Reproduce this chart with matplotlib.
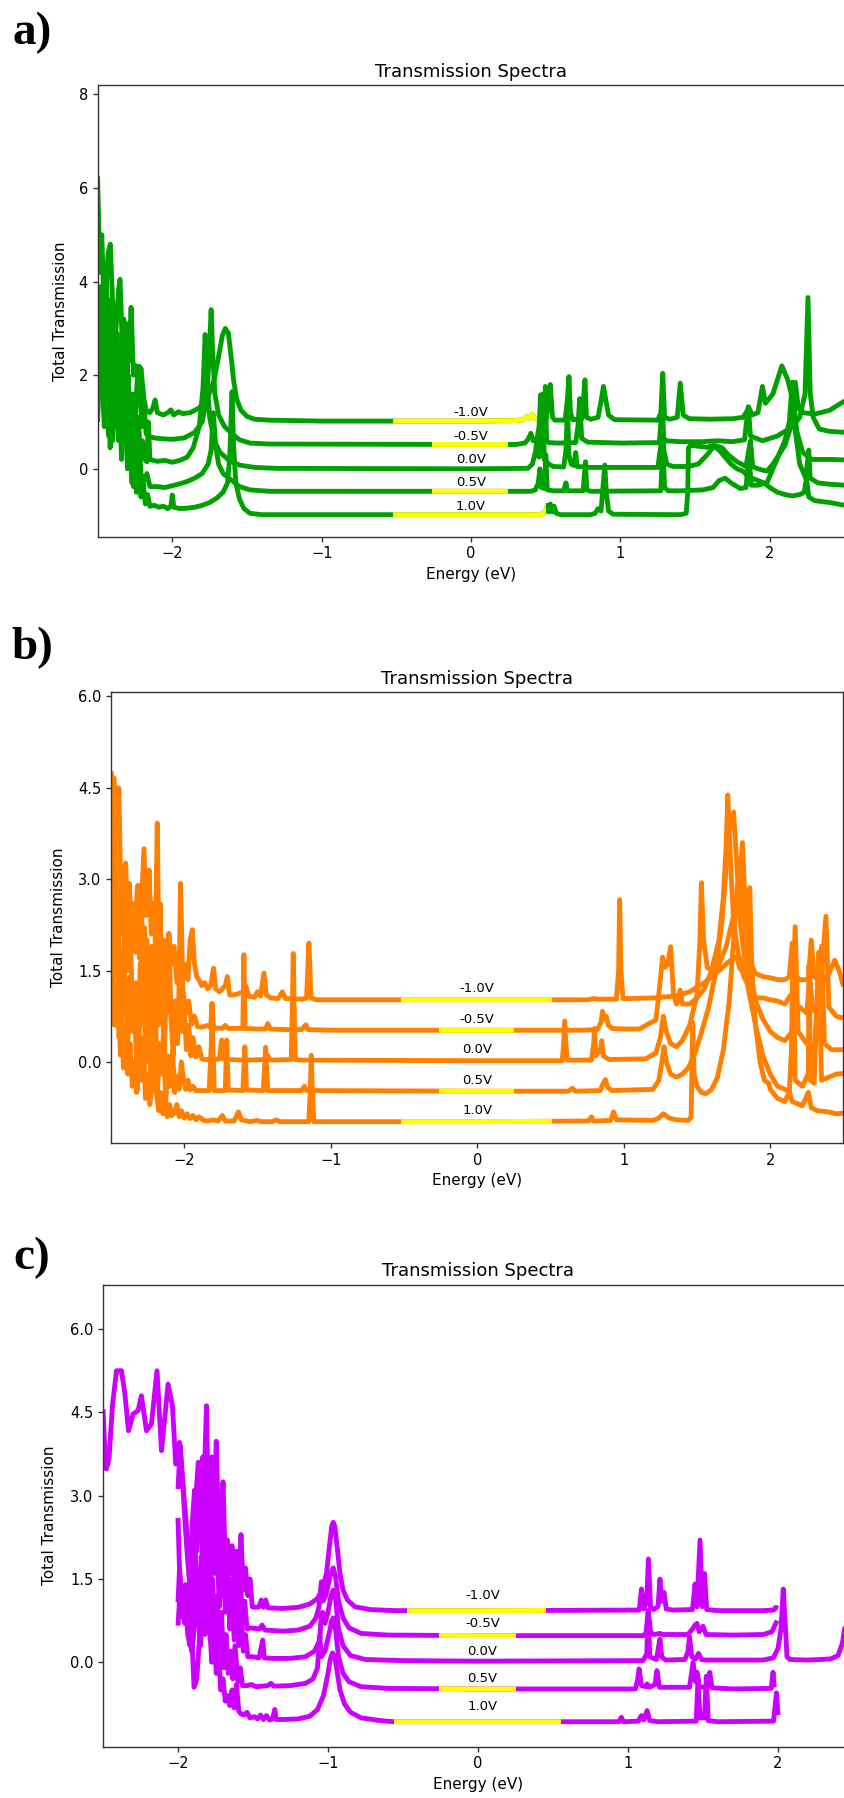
import numpy as np
import matplotlib
matplotlib.use("Agg")
import matplotlib.pyplot as plt
import matplotlib.transforms as mtransforms
from matplotlib.patches import Rectangle

# bias voltages, one spectrum per bias; each spectrum is drawn shifted by -V
biases = [-1.0, -0.5, 0.0, 0.5, 1.0]

# ---------------- panel a : (energy eV, shifted transmission) ----------------
a_m10 = [(-2.50, 6.25), (-2.485, 4.2), (-2.472, 5.0), (-2.455, 3.2), (-2.43, 4.6), (-2.415, 4.8),
         (-2.40, 3.6), (-2.385, 2.6), (-2.36, 3.8), (-2.35, 4.05), (-2.335, 2.7), (-2.31, 3.1),
         (-2.29, 2.3), (-2.276, 3.45), (-2.26, 2.0), (-2.24, 2.2), (-2.225, 1.6), (-2.21, 2.15),
         (-2.19, 1.5), (-2.175, 1.25), (-2.15, 1.2), (-2.13, 1.3), (-2.115, 1.47), (-2.10, 1.2),
         (-2.06, 1.15), (-2.03, 1.2), (-2.01, 1.26), (-1.99, 1.15), (-1.96, 1.22), (-1.93, 1.18),
         (-1.88, 1.2), (-1.82, 1.3), (-1.76, 1.55), (-1.72, 1.9), (-1.69, 2.4), (-1.665, 2.85),
         (-1.645, 3.0), (-1.625, 2.9), (-1.61, 2.5), (-1.59, 1.9), (-1.57, 1.5), (-1.54, 1.25),
         (-1.50, 1.12), (-1.45, 1.06), (-1.35, 1.04), (-1.0, 1.02), (0.0, 1.02), (0.30, 1.03),
         (0.35, 1.05), (0.37, 1.12), (0.39, 1.08), (0.41, 1.17), (0.42, 1.1), (0.44, 1.06),
         (0.48, 1.05), (0.50, 1.04), (0.515, 1.3), (0.53, 1.8), (0.545, 1.1), (0.56, 1.04),
         (0.63, 1.04), (0.645, 1.5), (0.655, 1.97), (0.665, 1.2), (0.68, 1.05), (0.74, 1.06),
         (0.752, 1.5), (0.762, 1.9), (0.772, 1.1), (0.80, 1.06), (0.85, 1.1), (0.87, 1.45),
         (0.886, 1.76), (0.90, 1.5), (0.92, 1.15), (0.96, 1.05), (1.25, 1.04), (1.27, 1.2),
         (1.283, 2.04), (1.295, 1.1), (1.33, 1.06), (1.38, 1.1), (1.40, 1.83), (1.42, 1.15),
         (1.46, 1.07), (1.60, 1.06), (1.75, 1.07), (1.82, 1.1), (1.86, 1.3), (1.88, 1.15),
         (1.92, 1.2), (1.95, 1.76), (1.97, 1.4), (2.02, 1.6), (2.08, 2.2), (2.12, 1.9),
         (2.15, 1.5), (2.17, 1.85), (2.19, 1.3), (2.22, 1.2), (2.30, 1.17), (2.40, 1.25),
         (2.50, 1.45)]
a_m05 = [(-2.50, 3.6), (-2.49, 2.6), (-2.475, 3.9), (-2.46, 2.4), (-2.445, 4.4), (-2.43, 3.0),
         (-2.416, 0.45), (-2.40, 1.8), (-2.385, 3.4), (-2.37, 2.0), (-2.355, 1.0), (-2.34, 2.6),
         (-2.325, 3.2), (-2.31, 1.2), (-2.295, 2.0), (-2.28, 0.8), (-2.265, 1.6), (-2.25, 0.9),
         (-2.235, 1.9), (-2.22, 2.19), (-2.205, 0.9), (-2.19, 1.4), (-2.175, 0.75), (-2.15, 0.68),
         (-2.10, 0.65), (-2.00, 0.63), (-1.92, 0.66), (-1.85, 0.78), (-1.80, 1.0), (-1.77, 1.5),
         (-1.755, 2.3), (-1.74, 3.4), (-1.73, 2.5), (-1.715, 1.6), (-1.69, 1.15), (-1.65, 0.9),
         (-1.60, 0.75), (-1.55, 0.62), (-1.48, 0.55), (-1.35, 0.53), (0.0, 0.52), (0.30, 0.52),
         (0.36, 0.55), (0.385, 0.65), (0.40, 0.76), (0.415, 0.6), (0.44, 0.62), (0.455, 0.9),
         (0.465, 1.58), (0.475, 0.8), (0.49, 0.7), (0.497, 1.76), (0.505, 0.6), (0.52, 0.56),
         (0.58, 0.55), (0.70, 0.56), (0.715, 0.9), (0.727, 1.5), (0.74, 0.65), (0.78, 0.57),
         (1.0, 0.55), (1.26, 0.56), (1.275, 1.2), (1.285, 0.7), (1.30, 0.6), (1.40, 0.58),
         (1.55, 0.58), (1.65, 0.6), (1.75, 0.58), (1.83, 0.62), (1.855, 1.33), (1.87, 0.7),
         (1.95, 0.6), (2.05, 0.7), (2.15, 0.9), (2.20, 1.1), (2.235, 1.6), (2.255, 3.66),
         (2.27, 1.6), (2.29, 1.1), (2.33, 0.85), (2.40, 0.8), (2.50, 0.78)]
a_000 = [(-2.50, 1.25), (-2.49, 2.0), (-2.475, 3.0), (-2.46, 4.1), (-2.45, 3.4), (-2.44, 1.8),
         (-2.425, 0.7), (-2.41, 2.2), (-2.39, 3.0), (-2.375, 1.5), (-2.36, 0.6), (-2.345, 2.3),
         (-2.33, 1.2), (-2.315, 2.7), (-2.30, 0.4), (-2.285, 1.4), (-2.26, -0.38), (-2.245, 0.5),
         (-2.23, 1.1), (-2.215, 0.3), (-2.20, 0.6), (-2.185, 0.2), (-2.17, 0.15), (-2.16, 1.0),
         (-2.15, 0.2), (-2.10, 0.16), (-2.05, 0.18), (-2.00, 0.14), (-1.95, 0.18), (-1.90, 0.25),
         (-1.86, 0.45), (-1.82, 0.9), (-1.795, 1.7), (-1.78, 2.87), (-1.765, 1.8), (-1.75, 1.1),
         (-1.72, 0.6), (-1.68, 0.35), (-1.62, 0.18), (-1.55, 0.08), (-1.45, 0.03), (-1.3, 0.01),
         (0.0, 0.0), (0.38, 0.01), (0.41, 0.1), (0.43, 0.35), (0.445, 0.7), (0.455, 0.25),
         (0.47, 0.3), (0.48, 1.6), (0.49, 0.2), (0.52, 0.1), (0.55, 0.05), (0.62, 0.04),
         (0.635, 0.4), (0.645, 1.3), (0.655, 0.3), (0.67, 0.1), (0.69, 0.07), (0.70, 0.35),
         (0.71, 0.05), (0.80, 0.03), (1.25, 0.03), (1.27, 0.5), (1.28, 1.6), (1.29, 0.4),
         (1.31, 0.1), (1.35, 0.05), (1.45, 0.05), (1.52, 0.1), (1.58, 0.3), (1.63, 0.5),
         (1.68, 0.45), (1.72, 0.3), (1.78, 0.15), (1.84, 0.05), (1.87, 0.6), (1.885, 0.05),
         (1.92, 0.0), (1.98, -0.05), (2.02, 0.1), (2.06, 0.3), (2.10, 0.5), (2.14, 0.9),
         (2.16, 1.4), (2.18, 0.8), (2.22, 0.35), (2.28, 0.2), (2.35, 0.2), (2.42, 0.2),
         (2.50, 0.19)]
a_p05 = [(-2.50, 2.2), (-2.485, 3.4), (-2.47, 2.0), (-2.455, 0.9), (-2.44, 2.6), (-2.42, 3.6),
         (-2.405, 2.2), (-2.39, 1.0), (-2.37, 2.9), (-2.355, 1.6), (-2.34, 0.2), (-2.325, 1.8),
         (-2.305, 3.1), (-2.29, 0.6), (-2.27, -0.2), (-2.255, 0.8), (-2.24, 0.2), (-2.225, 0.9),
         (-2.21, -0.1), (-2.19, -0.25), (-2.17, -0.1), (-2.15, -0.38), (-2.10, -0.38),
         (-2.05, -0.4), (-2.00, -0.36), (-1.95, -0.32), (-1.90, -0.27), (-1.85, -0.2),
         (-1.80, -0.1), (-1.76, 0.1), (-1.74, 0.4), (-1.725, 1.2), (-1.71, 0.5), (-1.69, 0.1),
         (-1.66, -0.1), (-1.60, -0.25), (-1.55, -0.38), (-1.48, -0.45), (-1.35, -0.48),
         (0.0, -0.48), (0.40, -0.48), (0.43, -0.45), (0.45, -0.3), (0.46, 0.0), (0.47, -0.4),
         (0.49, -0.42), (0.50, 0.3), (0.51, -0.45), (0.55, -0.47), (0.62, -0.47), (0.635, -0.3),
         (0.645, -0.47), (0.75, -0.47), (0.765, 0.15), (0.775, -0.45), (0.80, -0.48),
         (1.27, -0.47), (1.283, 0.6), (1.295, -0.4), (1.32, -0.47), (1.40, -0.47), (1.55, -0.45),
         (1.62, -0.4), (1.66, -0.25), (1.70, -0.2), (1.74, -0.3), (1.80, -0.42), (1.84, -0.4),
         (1.86, 0.3), (1.875, -0.35), (1.92, -0.35), (1.98, -0.3), (2.02, 0.0), (2.06, 0.3),
         (2.10, 0.6), (2.13, 1.0), (2.15, 1.85), (2.17, 0.8), (2.20, 0.1), (2.24, -0.2),
         (2.26, 0.4), (2.27, -0.2), (2.32, -0.3), (2.40, -0.33), (2.50, -0.35)]
a_p10 = [(-2.50, 1.0), (-2.49, 2.0), (-2.475, 3.1), (-2.46, 2.2), (-2.445, 1.0), (-2.43, 2.9),
         (-2.415, 1.5), (-2.40, 0.6), (-2.385, 1.8), (-2.37, 0.9), (-2.355, 2.2), (-2.34, 0.8),
         (-2.32, 1.6), (-2.30, 0.0), (-2.285, 0.9), (-2.27, -0.3), (-2.255, 0.4), (-2.24, -0.5),
         (-2.225, 0.2), (-2.21, -0.6), (-2.195, -0.3), (-2.18, -0.75), (-2.165, -0.55),
         (-2.15, -0.8), (-2.12, -0.78), (-2.09, -0.82), (-2.06, -0.8), (-2.03, -0.85),
         (-2.01, -0.8), (-2.0, -0.56), (-1.99, -0.82), (-1.95, -0.85), (-1.90, -0.84),
         (-1.85, -0.82), (-1.80, -0.78), (-1.75, -0.72), (-1.70, -0.62), (-1.66, -0.5),
         (-1.63, -0.3), (-1.615, 0.3), (-1.60, 1.65), (-1.59, 0.5), (-1.575, -0.3), (-1.55, -0.65),
         (-1.52, -0.85), (-1.48, -0.95), (-1.40, -0.98), (0.0, -0.98), (0.45, -0.98),
         (0.48, -0.96), (0.50, -0.9), (0.51, -0.78), (0.52, -0.92), (0.53, -0.75), (0.545, -0.92),
         (0.555, -0.8), (0.57, -0.95), (0.60, -0.98), (0.80, -0.98), (0.83, -0.95), (0.85, -0.85),
         (0.87, -0.9), (0.885, -0.3), (0.895, 0.08), (0.905, -0.5), (0.92, -0.9), (0.95, -0.97),
         (1.40, -0.98), (1.44, -0.95), (1.45, -0.5), (1.455, 0.45), (1.47, 0.5), (1.53, 0.48),
         (1.58, 0.46), (1.62, 0.5), (1.66, 0.4), (1.70, 0.25), (1.74, 0.1), (1.78, 0.0),
         (1.82, -0.05), (1.85, -0.15), (1.88, -0.2), (1.92, -0.25), (1.96, -0.3), (2.0, -0.4),
         (2.05, -0.5), (2.10, -0.55), (2.15, -0.58), (2.20, -0.55), (2.23, -0.5), (2.245, -0.2),
         (2.26, -0.6), (2.30, -0.68), (2.35, -0.7), (2.40, -0.72), (2.45, -0.75), (2.50, -0.78)]

# ---------------- panel b ----------------
b_m10 = [(-2.50, 4.77), (-2.49, 4.6), (-2.475, 4.2), (-2.46, 4.5), (-2.446, 4.49), (-2.435, 3.0),
         (-2.42, 2.1), (-2.405, 3.2), (-2.39, 2.5), (-2.375, 2.9), (-2.36, 2.0), (-2.345, 2.6),
         (-2.33, 1.8), (-2.315, 2.9), (-2.30, 2.2), (-2.275, 3.5), (-2.26, 2.4), (-2.24, 3.15),
         (-2.225, 2.1), (-2.21, 2.6), (-2.19, 1.6), (-2.175, 2.3), (-2.16, 1.5), (-2.14, 2.0),
         (-2.12, 1.3), (-2.105, 2.1), (-2.09, 1.6), (-2.07, 1.9), (-2.05, 1.3), (-2.03, 1.7),
         (-2.01, 1.45), (-1.99, 1.6), (-1.975, 1.35), (-1.96, 2.0), (-1.945, 2.17), (-1.93, 1.6),
         (-1.915, 1.4), (-1.90, 1.35), (-1.88, 1.25), (-1.86, 1.3), (-1.84, 1.2), (-1.82, 1.25),
         (-1.80, 1.54), (-1.785, 1.2), (-1.76, 1.15), (-1.74, 1.2), (-1.72, 1.25), (-1.706, 1.4),
         (-1.69, 1.1), (-1.66, 1.1), (-1.63, 1.12), (-1.60, 1.15), (-1.58, 1.25), (-1.56, 1.08),
         (-1.52, 1.06), (-1.50, 1.15), (-1.48, 1.08), (-1.456, 1.46), (-1.44, 1.1), (-1.41, 1.05),
         (-1.36, 1.04), (-1.33, 1.15), (-1.31, 1.04), (-1.20, 1.03), (-1.165, 1.05),
         (-1.149, 1.95), (-1.135, 1.05), (-1.10, 1.02), (0.0, 1.02), (0.75, 1.02), (0.80, 1.04),
         (0.82, 1.03), (0.95, 1.03), (0.965, 1.5), (0.972, 2.66), (0.98, 1.5), (0.995, 1.04),
         (1.20, 1.05), (1.30, 1.07), (1.38, 1.1), (1.45, 1.15), (1.55, 1.3), (1.65, 1.5),
         (1.72, 1.65), (1.77, 1.73), (1.79, 1.55), (1.82, 1.45), (1.85, 1.42), (1.88, 1.55),
         (1.90, 1.45), (1.95, 1.4), (2.00, 1.38), (2.05, 1.35), (2.10, 1.35), (2.13, 1.4),
         (2.15, 1.95), (2.165, 1.45), (2.20, 1.35), (2.26, 1.35), (2.28, 2.0), (2.30, 1.4),
         (2.35, 1.3), (2.40, 1.45), (2.44, 1.67), (2.47, 1.5), (2.50, 1.24)]
b_m05 = [(-2.50, 3.92), (-2.485, 3.6), (-2.47, 2.5), (-2.455, 1.8), (-2.44, 2.6), (-2.425, 3.1),
         (-2.40, 3.26), (-2.385, 2.2), (-2.37, 1.5), (-2.355, 2.5), (-2.34, 1.9), (-2.32, 2.88),
         (-2.305, 1.7), (-2.29, 2.4), (-2.27, 1.2), (-2.255, 2.0), (-2.24, 1.0), (-2.22, 1.9),
         (-2.205, 0.9), (-2.184, 3.92), (-2.17, 1.3), (-2.155, 0.7), (-2.14, 1.6), (-2.12, 0.8),
         (-2.10, 1.2), (-2.08, 0.7), (-2.06, 1.0), (-2.04, 0.6), (-2.025, 2.93), (-2.01, 1.2),
         (-1.99, 0.8), (-1.97, 1.0), (-1.95, 0.62), (-1.93, 0.75), (-1.91, 0.58), (-1.88, 0.57),
         (-1.84, 0.6), (-1.82, 0.56), (-1.81, 0.96), (-1.80, 0.56), (-1.74, 0.55), (-1.72, 0.6),
         (-1.70, 0.55), (-1.60, 0.55), (-1.593, 1.76), (-1.585, 0.55), (-1.50, 0.54),
         (-1.445, 0.54), (-1.43, 0.63), (-1.415, 0.54), (-1.30, 0.53), (-1.20, 0.53),
         (-1.17, 0.61), (-1.155, 0.53), (-1.0, 0.52), (0.0, 0.52), (0.70, 0.52), (0.82, 0.53),
         (0.845, 0.65), (0.855, 0.83), (0.87, 0.7), (0.88, 0.75), (0.895, 0.6), (0.92, 0.55),
         (1.0, 0.54), (1.106, 0.54), (1.22, 0.69), (1.25, 1.35), (1.265, 1.72), (1.28, 1.55),
         (1.30, 1.6), (1.32, 1.89), (1.34, 1.1), (1.36, 0.95), (1.385, 1.18), (1.40, 0.95),
         (1.45, 0.95), (1.50, 1.05), (1.55, 1.2), (1.60, 1.5), (1.65, 2.0), (1.68, 2.7),
         (1.70, 3.6), (1.71, 4.38), (1.72, 3.8), (1.735, 3.0), (1.75, 2.3), (1.78, 1.8),
         (1.82, 1.4), (1.86, 1.2), (1.90, 1.05), (1.95, 1.05), (2.00, 1.02), (2.05, 1.0),
         (2.10, 0.95), (2.14, 1.1), (2.16, 0.95), (2.20, 0.9), (2.25, 0.8), (2.27, 1.4),
         (2.29, 0.85), (2.33, 0.8), (2.38, 2.39), (2.40, 0.9), (2.45, 0.75), (2.50, 0.72)]
b_000 = [(-2.50, 1.6), (-2.49, 2.8), (-2.48, 4.66), (-2.47, 3.2), (-2.46, 2.0), (-2.45, 1.0),
         (-2.435, 0.11), (-2.42, 1.2), (-2.405, 2.4), (-2.39, 1.5), (-2.375, 2.93), (-2.36, 1.4),
         (-2.345, 0.6), (-2.33, 1.3), (-2.315, 0.4), (-2.30, 1.62), (-2.285, 0.8), (-2.27, 2.2),
         (-2.255, 1.0), (-2.24, 0.2), (-2.225, 1.1), (-2.21, 0.4), (-2.195, 1.6), (-2.18, 0.6),
         (-2.165, 2.6), (-2.15, 0.8), (-2.135, 0.2), (-2.12, 1.5), (-2.105, 2.11), (-2.09, 0.7),
         (-2.075, 0.1), (-2.06, 1.0), (-2.045, 0.3), (-2.03, 1.3), (-2.015, 0.5), (-2.0, 0.9),
         (-1.985, 0.2), (-1.97, 0.6), (-1.955, 0.1), (-1.94, 0.4), (-1.92, 0.08), (-1.90, 0.25),
         (-1.88, 0.05), (-1.86, 0.04), (-1.80, 0.04), (-1.76, 0.05), (-1.745, 0.36),
         (-1.735, 0.05), (-1.70, 0.04), (-1.60, 0.03), (-1.45, 0.04), (-1.43, 0.11),
         (-1.415, 0.03), (-1.27, 0.04), (-1.262, 0.9), (-1.256, 1.78), (-1.25, 0.9),
         (-1.242, 0.04), (-1.20, 0.03), (0.0, 0.02), (0.58, 0.02), (0.59, 0.3), (0.597, 0.67),
         (0.605, 0.3), (0.615, 0.03), (0.78, 0.03), (0.795, 0.3), (0.80, 0.55), (0.81, 0.1),
         (0.84, 0.2), (0.85, 0.35), (0.86, 0.1), (0.90, 0.04), (1.15, 0.05), (1.22, 0.15),
         (1.25, 0.4), (1.27, 0.75), (1.29, 0.5), (1.32, 0.3), (1.36, 0.25), (1.40, 0.35),
         (1.45, 0.6), (1.50, 1.1), (1.52, 2.0), (1.53, 2.94), (1.545, 2.0), (1.57, 1.55),
         (1.60, 1.5), (1.65, 1.6), (1.70, 1.9), (1.75, 2.4), (1.79, 3.0), (1.81, 3.6),
         (1.83, 2.5), (1.86, 1.5), (1.90, 1.0), (1.95, 0.7), (2.0, 0.5), (2.05, 0.4),
         (2.10, 0.35), (2.15, 0.5), (2.17, 2.22), (2.19, 0.5), (2.25, 0.3), (2.30, 0.2),
         (2.35, 1.9), (2.37, 0.3), (2.42, 0.2), (2.50, 0.2)]
b_p05 = [(-2.50, 3.5), (-2.49, 2.5), (-2.475, 1.4), (-2.46, 2.8), (-2.445, 1.9), (-2.43, 0.7),
         (-2.415, 1.8), (-2.40, 1.1), (-2.385, 0.3), (-2.37, 1.4), (-2.355, 0.5), (-2.34, 1.0),
         (-2.32, -0.46), (-2.305, 0.6), (-2.29, 1.9), (-2.275, 0.9), (-2.26, 0.0), (-2.245, 0.9),
         (-2.23, -0.2), (-2.215, 0.5), (-2.20, 1.3), (-2.184, -0.62), (-2.17, 0.3),
         (-2.155, -0.2), (-2.14, 0.6), (-2.127, -0.73), (-2.11, 0.1), (-2.095, -0.4),
         (-2.08, 0.2), (-2.065, -0.5), (-2.05, -0.24), (-2.035, -0.45), (-2.02, 0.0),
         (-2.005, -0.3), (-1.99, -0.45), (-1.975, -0.3), (-1.96, -0.46), (-1.94, -0.4),
         (-1.92, -0.47), (-1.83, -0.47), (-1.815, 0.3), (-1.81, 0.94), (-1.805, 0.3),
         (-1.795, -0.47), (-1.72, -0.47), (-1.71, 0.36), (-1.70, -0.46), (-1.60, -0.47),
         (-1.586, 0.25), (-1.575, -0.46), (-1.46, -0.47), (-1.445, 0.24), (-1.43, -0.47),
         (-1.20, -0.47), (-1.18, -0.4), (-1.165, -0.47), (0.0, -0.48), (0.62, -0.48),
         (0.65, -0.43), (0.67, -0.48), (0.84, -0.47), (0.86, -0.35), (0.875, -0.29),
         (0.89, -0.42), (0.92, -0.47), (1.20, -0.45), (1.24, -0.3), (1.26, 0.0), (1.275, 0.25),
         (1.29, 0.0), (1.32, -0.2), (1.36, -0.25), (1.40, -0.2), (1.44, -0.1), (1.48, 0.1),
         (1.52, 0.4), (1.58, 0.9), (1.63, 1.5), (1.67, 2.3), (1.70, 3.2), (1.72, 3.8),
         (1.75, 4.1), (1.77, 3.3), (1.80, 2.2), (1.85, 1.2), (1.90, 0.6), (1.95, 0.1),
         (2.0, -0.2), (2.05, -0.4), (2.10, -0.45), (2.13, -0.49), (2.145, 0.2), (2.155, 1.95),
         (2.17, -0.3), (2.22, -0.4), (2.26, -0.19), (2.265, 1.6), (2.275, -0.3), (2.30, -0.35),
         (2.33, 1.8), (2.35, -0.3), (2.40, -0.25), (2.45, -0.2), (2.50, -0.19)]
b_p10 = [(-2.50, 2.6), (-2.49, 1.5), (-2.475, 0.6), (-2.46, 1.3), (-2.445, 0.4), (-2.43, 1.0),
         (-2.415, -0.1), (-2.40, 0.6), (-2.385, -0.2), (-2.37, 0.3), (-2.355, -0.4), (-2.34, 0.0),
         (-2.325, -0.5), (-2.31, 0.1), (-2.295, -0.3), (-2.28, 0.4), (-2.265, -0.6),
         (-2.25, -0.2), (-2.235, -0.7), (-2.22, -0.4), (-2.205, 0.2), (-2.19, -0.5),
         (-2.175, -0.8), (-2.16, -0.5), (-2.145, -0.85), (-2.13, -0.6), (-2.115, -0.9),
         (-2.10, -0.7), (-2.085, -0.88), (-2.07, -0.84), (-2.05, -0.7), (-2.035, -0.9),
         (-2.02, -0.8), (-2.0, -0.92), (-1.98, -0.85), (-1.96, -0.93), (-1.94, -0.88),
         (-1.92, -0.95), (-1.90, -0.9), (-1.866, -0.96), (-1.84, -0.97), (-1.80, -0.95),
         (-1.77, -0.97), (-1.74, -0.88), (-1.72, -0.97), (-1.66, -0.97), (-1.63, -0.82),
         (-1.61, -0.95), (-1.55, -0.98), (-1.50, -0.96), (-1.48, -0.98), (-1.40, -0.98),
         (-1.37, -0.95), (-1.35, -0.98), (-1.15, -0.98), (-1.14, -0.5), (-1.133, 0.11),
         (-1.125, -0.5), (-1.115, -0.98), (0.0, -0.98), (0.76, -0.97), (0.78, -0.9),
         (0.795, -0.97), (0.91, -0.96), (0.93, -0.82), (0.95, -0.95), (1.20, -0.96),
         (1.24, -0.92), (1.27, -0.85), (1.31, -0.92), (1.36, -0.95), (1.44, -0.96), (1.46, -0.9),
         (1.47, 0.65), (1.48, -0.2), (1.50, -0.4), (1.53, -0.5), (1.56, -0.52), (1.60, -0.45),
         (1.64, -0.25), (1.68, 0.2), (1.72, 1.0), (1.75, 2.0), (1.78, 3.0), (1.80, 3.3),
         (1.82, 2.5), (1.85, 1.8), (1.86, 2.86), (1.875, 1.5), (1.90, 0.6), (1.93, 0.0),
         (1.96, -0.3), (1.99, -0.35), (2.0, -0.45), (2.05, -0.6), (2.10, -0.65), (2.13, -0.49),
         (2.15, -0.65), (2.22, -0.72), (2.26, -0.5), (2.28, -0.75), (2.32, -0.8), (2.40, -0.82),
         (2.45, -0.85), (2.50, -0.84)]

# ---------------- panel c ----------------
c_m10 = [(-2.0, 3.12), (-1.985, 3.9), (-1.97, 3.3), (-1.955, 2.6), (-1.94, 2.0), (-1.925, 1.5),
         (-1.91, 1.1), (-1.895, 2.0), (-1.88, 3.0), (-1.865, 3.6), (-1.85, 2.5), (-1.835, 3.7),
         (-1.82, 2.7), (-1.805, 3.4), (-1.79, 2.2), (-1.775, 3.7), (-1.76, 2.6), (-1.745, 3.98),
         (-1.73, 2.4), (-1.715, 2.0), (-1.70, 3.25), (-1.685, 1.8), (-1.67, 2.2), (-1.655, 1.6),
         (-1.64, 2.1), (-1.625, 1.3), (-1.61, 2.0), (-1.595, 1.4), (-1.58, 2.3), (-1.565, 1.3),
         (-1.55, 1.7), (-1.535, 1.2), (-1.52, 1.5), (-1.505, 1.0), (-1.49, 0.99), (-1.46, 1.0),
         (-1.445, 1.12), (-1.43, 0.99), (-1.415, 1.12), (-1.40, 0.98), (-1.30, 0.97),
         (-1.20, 0.99), (-1.12, 1.05), (-1.07, 1.15), (-1.04, 1.3), (-1.01, 1.6), (-0.99, 2.1),
         (-0.975, 2.45), (-0.965, 2.52), (-0.955, 2.45), (-0.94, 2.1), (-0.92, 1.6),
         (-0.90, 1.3), (-0.87, 1.12), (-0.82, 1.0), (-0.72, 0.95), (-0.55, 0.93), (0.0, 0.93),
         (1.075, 0.94), (1.09, 1.32), (1.105, 0.96), (1.125, 1.1), (1.136, 1.86), (1.15, 1.0),
         (1.17, 0.95), (1.20, 1.0), (1.213, 1.5), (1.225, 1.1), (1.24, 1.26), (1.255, 0.96),
         (1.30, 0.94), (1.43, 0.95), (1.447, 1.41), (1.46, 1.0), (1.48, 2.2), (1.495, 1.0),
         (1.51, 1.6), (1.525, 0.95), (1.60, 0.93), (1.90, 0.93), (1.97, 0.94), (1.985, 0.99),
         (2.0, 0.97)]
c_m05 = [(-2.0, 2.6), (-1.99, 1.68), (-1.98, 1.3), (-1.965, 1.1), (-1.95, 1.4), (-1.935, 0.9),
         (-1.92, 1.5), (-1.905, 2.5), (-1.89, 3.1), (-1.875, 2.0), (-1.86, 3.6), (-1.845, 2.4),
         (-1.83, 1.6), (-1.815, 3.0), (-1.80, 2.0), (-1.785, 1.2), (-1.77, 2.6), (-1.755, 1.6),
         (-1.74, 2.2), (-1.725, 1.0), (-1.71, 1.8), (-1.695, 1.2), (-1.68, 2.0), (-1.665, 0.9),
         (-1.65, 1.5), (-1.635, 0.7), (-1.62, 1.3), (-1.60, 0.8), (-1.585, 1.6), (-1.57, 0.7),
         (-1.555, 1.1), (-1.54, 0.6), (-1.52, 0.62), (-1.455, 0.6), (-1.44, 0.67),
         (-1.42, 0.58), (-1.30, 0.56), (-1.20, 0.58), (-1.12, 0.65), (-1.08, 0.8), (-1.06, 1.0),
         (-1.044, 1.45), (-1.035, 1.1), (-1.015, 1.2), (-0.99, 1.5), (-0.975, 1.65),
         (-0.965, 1.7), (-0.95, 1.55), (-0.93, 1.1), (-0.90, 0.8), (-0.86, 0.62), (-0.78, 0.52),
         (-0.6, 0.49), (0.0, 0.48), (1.10, 0.48), (1.12, 0.52), (1.135, 0.93), (1.15, 0.55),
         (1.17, 0.5), (1.213, 0.52), (1.23, 0.5), (1.40, 0.5), (1.43, 0.6), (1.447, 0.67),
         (1.46, 0.7), (1.475, 0.55), (1.50, 0.65), (1.52, 0.5), (1.70, 0.49), (1.90, 0.5),
         (1.96, 0.55), (1.985, 0.7), (1.995, 0.75)]
c_000 = [(-2.50, 4.56), (-2.49, 3.96), (-2.478, 3.48), (-2.46, 3.66), (-2.437, 4.62),
         (-2.41, 5.25), (-2.377, 5.25), (-2.355, 4.86), (-2.33, 4.17), (-2.30, 4.47),
         (-2.266, 4.53), (-2.244, 4.8), (-2.21, 4.17), (-2.177, 4.29), (-2.14, 5.25),
         (-2.11, 3.81), (-2.066, 5.01), (-2.037, 4.62), (-2.015, 3.57), (-1.99, 3.96),
         (-1.966, 3.18), (-1.933, 2.1), (-1.91, 0.6), (-1.893, -0.45), (-1.875, -0.3),
         (-1.855, 0.5), (-1.84, 2.0), (-1.825, 3.3), (-1.81, 4.62), (-1.80, 3.0), (-1.79, 3.6),
         (-1.775, 2.2), (-1.76, 3.2), (-1.745, 1.9), (-1.73, 2.6), (-1.715, 1.3), (-1.70, 2.1),
         (-1.685, 0.9), (-1.67, 1.7), (-1.655, 0.6), (-1.64, 1.2), (-1.625, 0.4), (-1.61, 0.9),
         (-1.595, 0.3), (-1.58, 1.0), (-1.565, 0.2), (-1.55, 0.5), (-1.535, 0.1), (-1.50, 0.1),
         (-1.46, 0.08), (-1.435, 0.4), (-1.425, 0.08), (-1.38, 0.07), (-1.25, 0.07),
         (-1.15, 0.1), (-1.09, 0.2), (-1.055, 0.4), (-1.045, 0.85), (-1.035, 0.9), (-1.02, 0.7),
         (-1.0, 0.9), (-0.98, 1.2), (-0.965, 1.3), (-0.95, 1.15), (-0.93, 0.6), (-0.90, 0.3),
         (-0.85, 0.12), (-0.75, 0.05), (-0.5, 0.03), (0.0, 0.02), (1.10, 0.03), (1.125, 0.15),
         (1.135, 0.93), (1.145, 0.1), (1.19, 0.05), (1.205, 0.3), (1.213, 0.42), (1.225, 0.1),
         (1.25, 0.04), (1.38, 0.05), (1.40, 0.2), (1.41, 0.46), (1.425, 0.1), (1.45, 0.06),
         (1.47, 0.16), (1.49, 0.05), (1.52, 0.04), (1.90, 0.04), (1.97, 0.08), (2.0, 0.25),
         (2.02, 0.6), (2.035, 1.32), (2.05, 0.6), (2.06, 0.1), (2.08, 0.05), (2.20, 0.04),
         (2.35, 0.06), (2.40, 0.12), (2.43, 0.35), (2.45, 0.7), (2.47, 1.1), (2.50, 1.6)]
c_p05 = [(-2.0, 1.08), (-1.99, 1.68), (-1.98, 1.2), (-1.965, 0.8), (-1.95, 1.1), (-1.935, 0.5),
         (-1.92, 0.3), (-1.905, 1.2), (-1.89, 2.3), (-1.875, 1.4), (-1.86, 0.7), (-1.845, 1.9),
         (-1.83, 1.0), (-1.815, 2.6), (-1.80, 1.3), (-1.785, 0.4), (-1.77, 1.5), (-1.755, 0.6),
         (-1.74, 1.2), (-1.725, 0.1), (-1.71, 0.9), (-1.695, -0.1), (-1.68, 0.5), (-1.665, -0.2),
         (-1.65, 0.2), (-1.635, -0.3), (-1.62, 0.3), (-1.60, -0.35), (-1.585, -0.1),
         (-1.57, -0.42), (-1.54, -0.42), (-1.51, -0.4), (-1.48, -0.44), (-1.40, -0.42),
         (-1.38, -0.38), (-1.36, -0.43), (-1.25, -0.42), (-1.15, -0.38), (-1.10, -0.3),
         (-1.07, -0.1), (-1.055, 0.48), (-1.045, 0.1), (-1.02, 0.2), (-0.99, 0.55),
         (-0.975, 0.75), (-0.965, 0.8), (-0.95, 0.6), (-0.93, 0.1), (-0.90, -0.2),
         (-0.86, -0.35), (-0.78, -0.44), (-0.6, -0.47), (0.0, -0.48), (1.05, -0.48),
         (1.065, -0.3), (1.074, -0.12), (1.09, -0.42), (1.12, -0.44), (1.127, -0.39),
         (1.145, -0.45), (1.18, -0.4), (1.193, -0.15), (1.21, -0.45), (1.41, -0.45),
         (1.434, 0.0), (1.45, -0.35), (1.46, -0.18), (1.475, -0.45), (1.53, -0.44),
         (1.545, -0.18), (1.56, -0.46), (1.70, -0.48), (1.955, -0.47), (1.967, -0.18),
         (1.975, -0.45)]
c_p10 = [(-2.0, 0.66), (-1.99, 1.1), (-1.98, 1.4), (-1.97, 1.0), (-1.955, 0.7), (-1.94, 1.3),
         (-1.925, 0.6), (-1.91, 0.2), (-1.895, 0.5), (-1.88, 1.6), (-1.865, 0.8), (-1.85, 0.3),
         (-1.835, 1.2), (-1.82, 0.5), (-1.805, 1.9), (-1.79, 0.7), (-1.775, 0.0), (-1.76, 0.6),
         (-1.745, -0.2), (-1.73, 0.2), (-1.715, -0.5), (-1.70, -0.3), (-1.685, -0.7),
         (-1.67, -0.6), (-1.655, -0.78), (-1.64, -0.5), (-1.625, -0.82), (-1.61, -0.4),
         (-1.595, -0.88), (-1.58, -0.93), (-1.56, -0.95), (-1.54, -0.9), (-1.52, -1.0),
         (-1.49, -0.98), (-1.47, -1.02), (-1.45, -0.95), (-1.43, -1.03), (-1.41, -0.96),
         (-1.39, -1.04), (-1.37, -1.02), (-1.355, -0.85), (-1.345, -1.03), (-1.30, -1.03),
         (-1.20, -1.02), (-1.12, -0.97), (-1.07, -0.85), (-1.03, -0.6), (-1.0, -0.2),
         (-0.985, 0.05), (-0.97, 0.17), (-0.955, 0.1), (-0.94, -0.15), (-0.92, -0.5),
         (-0.89, -0.75), (-0.85, -0.9), (-0.78, -1.0), (-0.65, -1.05), (-0.56, -1.07),
         (0.0, -1.07), (0.94, -1.07), (0.956, -0.99), (0.97, -1.07), (1.07, -1.06),
         (1.089, -0.96), (1.105, -1.04), (1.127, -0.87), (1.145, -1.05), (1.20, -1.07),
         (1.455, -1.06), (1.467, -0.3), (1.48, -1.0), (1.51, -1.0), (1.522, -0.25),
         (1.535, -1.05), (1.60, -1.07), (1.97, -1.06), (1.99, -0.55), (2.0, -0.95)]

# bias windows (eV) drawn in yellow on each spectrum; none for 0 V
a_windows = [(-0.52, 0.50), (-0.26, 0.25), None, (-0.26, 0.25), (-0.52, 0.50)]
b_windows = [(-0.52, 0.51), (-0.26, 0.254), None, (-0.26, 0.254), (-0.52, 0.51)]
c_windows = [(-0.47, 0.455), (-0.26, 0.256), None, (-0.26, 0.256), (-0.563, 0.553)]

LW = 3.5
YELLOW = "#ffff00"
W, H = 845, 1798


def draw_panel(rect_px, curves, windows, color, ylim, yticks, ytick_fmt, lab_x, ylab_x, tag, tag_y):
    left, top, right, bottom = rect_px
    ax = fig.add_axes([left / W, 1 - bottom / H, (right - left) / W, (bottom - top) / H])
    band_tr = mtransforms.blended_transform_factory(ax.transData, ax.transAxes)
    for v, pts, win in zip(biases, curves, windows):
        e, y = np.array(pts).T
        ax.plot(e, y, color=color, lw=LW, solid_joinstyle="round", solid_capstyle="butt")
        if win is not None:
            band = Rectangle((win[0], 0), win[1] - win[0], 1, transform=band_tr)
            ln, = ax.plot(e, y, color=YELLOW, lw=LW, solid_capstyle="butt")
            ln.set_clip_path(band)
        ax.text(lab_x, -v + 0.2, f"{v:.1f}V", ha="center", va="center", fontsize=9.5)

    ax.set_xlim(-2.5, 2.5)
    ax.set_ylim(*ylim)
    ax.set_xticks([-2, -1, 0, 1, 2])
    ax.set_yticks(yticks)
    ax.set_yticklabels([ytick_fmt.format(t) for t in yticks])
    ax.tick_params(labelsize=10.5, color="#333333", width=1.0)
    for sp in ax.spines.values():
        sp.set_color("#333333")
        sp.set_linewidth(1.0)
    ax.set_title("Transmission Spectra", fontsize=13)
    ax.set_xlabel("Energy (eV)", fontsize=11)
    ax.set_ylabel("Total Transmission", fontsize=11)
    ax.yaxis.set_label_coords(ylab_x, 0.5)
    fig.text(32 / W, 1 - tag_y / H, tag, fontsize=34, fontweight="bold",
             family="Liberation Serif", ha="center", va="center")
    return ax


fig = plt.figure(figsize=(W / 100, H / 100), dpi=100)

draw_panel((97.6, 85, 844.6, 536.7), [a_m10, a_m05, a_000, a_p05, a_p10], a_windows,
           "#00a000", (-1.45, 8.2), [0, 2, 4, 6, 8], "{:.0f}", 0.0, -0.040, "a)", 33)
draw_panel((111, 692, 843.5, 1143), [b_m10, b_m05, b_000, b_p05, b_p10], b_windows,
           "#ff7f00", (-1.33, 6.07), [0.0, 1.5, 3.0, 4.5, 6.0], "{:.1f}", 0.0, -0.062, "b)", 648)
draw_panel((103, 1284.7, 853, 1746.7), [c_m10, c_m05, c_000, c_p05, c_p10], c_windows,
           "#cc00ff", (-1.52, 6.8), [0.0, 1.5, 3.0, 4.5, 6.0], "{:.1f}", 0.03, -0.062, "c)", 1258)

fig.savefig("out.png", dpi=100)
